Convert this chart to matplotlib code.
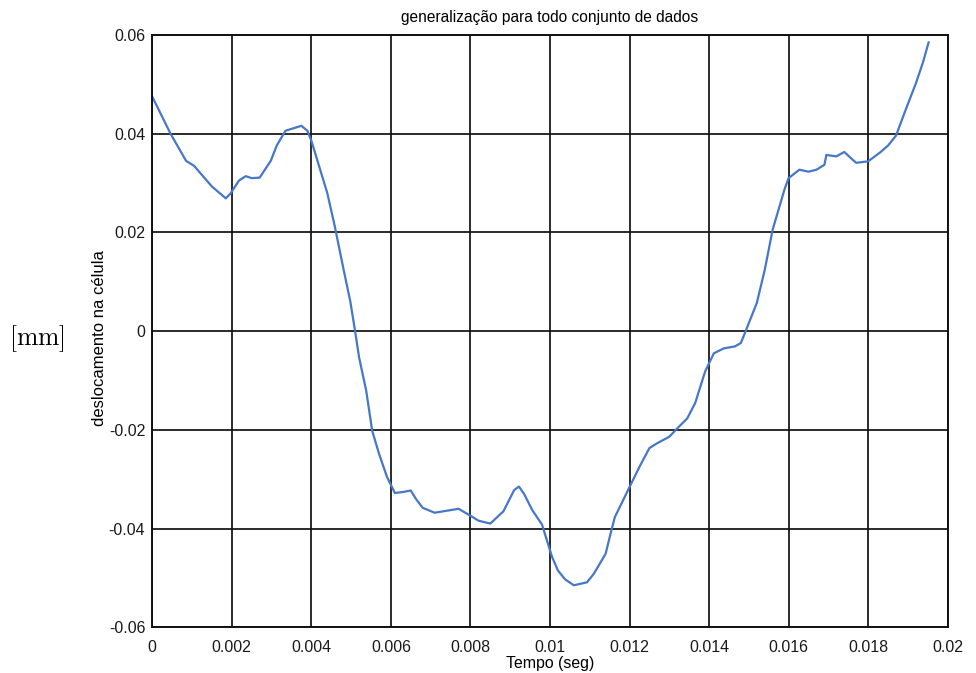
import matplotlib
matplotlib.use("Agg")
import matplotlib.pyplot as plt

# Time samples (s) and cell displacement (mm)
tempo = [0.0, 0.00046, 0.00085, 0.00105, 0.0015, 0.00185, 0.00197, 0.00218, 0.00235,
         0.0025, 0.0027, 0.00298, 0.00313, 0.00335, 0.00355, 0.00375, 0.0039, 0.0040,
         0.0042, 0.0044, 0.00458, 0.0048, 0.00498, 0.0051, 0.0052, 0.00538, 0.00553,
         0.0057, 0.0059, 0.0061, 0.0063, 0.0065, 0.00663, 0.0068, 0.0071, 0.0074, 0.0077,
         0.0080, 0.0082, 0.0085, 0.00883, 0.0091, 0.00922, 0.00935, 0.00955, 0.0098,
         0.01005, 0.0102, 0.01038, 0.0106, 0.01093, 0.0111, 0.0114, 0.0115, 0.01163,
         0.0118, 0.0120, 0.01225, 0.0125, 0.0127, 0.0130, 0.0132, 0.01345, 0.01365,
         0.0139, 0.01412, 0.01437, 0.01465, 0.0148, 0.0149, 0.0152, 0.0154, 0.0156,
         0.01575, 0.0159, 0.0160, 0.01627, 0.0165, 0.0167, 0.0169, 0.01695, 0.0172,
         0.0174, 0.0176, 0.0177, 0.0180, 0.0181, 0.0183, 0.0185, 0.0187, 0.01895,
         0.0192, 0.01938, 0.01952]
deslocamento = [0.0475, 0.0400, 0.0345, 0.0335, 0.0293, 0.0269, 0.0279, 0.0305, 0.0314,
                0.0310, 0.0311, 0.0345, 0.0376, 0.0406, 0.0411, 0.0416, 0.0406, 0.0386,
                0.0333, 0.0280, 0.0216, 0.0129, 0.0060, 0.0000, -0.0053, -0.0121, -0.0202,
                -0.0248, -0.0295, -0.0328, -0.0326, -0.0323, -0.0340, -0.0358, -0.0368,
                -0.0364, -0.0360, -0.0374, -0.0384, -0.0390, -0.0365, -0.0322, -0.0315,
                -0.0330, -0.0362, -0.0392, -0.0457, -0.0485, -0.0503, -0.0515, -0.0509,
                -0.0492, -0.0451, -0.0418, -0.0377, -0.0349, -0.0316, -0.0275, -0.0237,
                -0.0227, -0.0214, -0.0197, -0.0177, -0.0146, -0.0082, -0.0045, -0.0035,
                -0.0031, -0.0024, -0.0004, 0.0057, 0.0124, 0.0206, 0.0247, 0.0288, 0.0310,
                0.0327, 0.0323, 0.0327, 0.0337, 0.0357, 0.0354, 0.0363, 0.0348, 0.0341,
                0.0344, 0.0350, 0.0362, 0.0376, 0.0396, 0.0450, 0.0502, 0.0545, 0.0585]

xticks = [0, 0.002, 0.004, 0.006, 0.008, 0.01, 0.012, 0.014, 0.016, 0.018, 0.02]
xticklabels = ["0", "0.002", "0.004", "0.006", "0.008", "0.01", "0.012", "0.014",
               "0.016", "0.018", "0.02"]
yticks = [-0.06, -0.04, -0.02, 0, 0.02, 0.04, 0.06]
yticklabels = ["-0.06", "-0.04", "-0.02", "0", "0.02", "0.04", "0.06"]

plt.rcParams["font.family"] = ["Liberation Sans", "DejaVu Sans"]
plt.rcParams["mathtext.fontset"] = "cm"

fig = plt.figure(figsize=(9.76, 6.73), dpi=100)
ax = fig.add_axes([0.156, 0.068, 0.815, 0.880])

ax.plot(tempo, deslocamento, color="#4677c8", linewidth=1.6,
        solid_joinstyle="round")

ax.set_xlim(0, 0.02)
ax.set_ylim(-0.06, 0.06)
ax.set_xticks(xticks)
ax.set_xticklabels(xticklabels)
ax.set_yticks(yticks)
ax.set_yticklabels(yticklabels)
ax.tick_params(axis="x", length=0, labelsize=11.5, pad=9, colors="#1a1a1a")
ax.tick_params(axis="y", length=0, labelsize=11.5, pad=5, colors="#1a1a1a")
ax.grid(True, color="#111111", linewidth=1.25)
for s in ax.spines.values():
    s.set_linewidth(1.4)
    s.set_color("#111111")

ax.set_title("generalização para todo conjunto de dados", fontsize=11.2, pad=9)
ax.set_xlabel("Tempo (seg)", fontsize=11.4, labelpad=1)
fig.text(0.102, 0.498, "deslocamento na célula", rotation=90, fontsize=12,
         ha="center", va="center")
fig.text(0.038, 0.497, r"$[\mathrm{mm}]$", fontsize=18.5, ha="center", va="center")

fig.savefig("out.png", dpi=100)
